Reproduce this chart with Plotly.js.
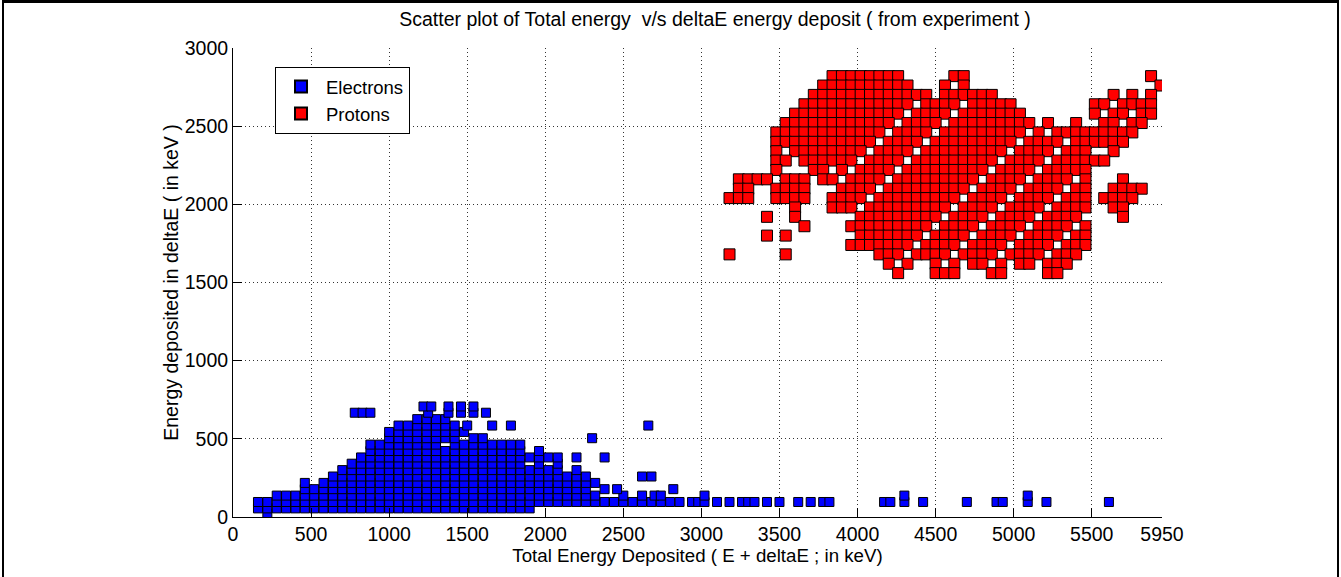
<!DOCTYPE html>
<html>
<head>
<meta charset="utf-8">
<script src="https://cdn.plot.ly/plotly-3.0.1.min.js"></script>
<style>
  html, body { margin: 0; padding: 0; background: #ffffff; }
  #chart { position: absolute; left: 0; top: 0; width: 1341px; height: 577px; }
  #frame { position: absolute; left: 2px; top: 0; width: 1333px; height: 600px;
           border-top: 3px solid #000; border-left: 2px solid #000; border-right: 2px solid #000;
           pointer-events: none; }
</style>
</head>
<body>
<div id="chart"></div>
<div id="frame"></div>
<script>
// ---------------- data ----------------
const chartTitle = 'Scatter plot of Total energy  v/s deltaE energy deposit ( from experiment )';
const xTitle = 'Total Energy Deposited ( E + deltaE ; in keV)';
const yTitle = 'Energy deposited in deltaE ( in keV )';
const xTickVals = [0, 500, 1000, 1500, 2000, 2500, 3000, 3500, 4000, 4500, 5000, 5500, 5950];
const xTickText = ['0', '500', '1000', '1500', '2000', '2500', '3000', '3500', '4000', '4500', '5000', '5500', '5950'];
const yTickVals = [0, 500, 1000, 1500, 2000, 2500, 3000];
const yTickText = ['0', '500', '1000', '1500', '2000', '2500', '3000'];
const seriesNames = ['Electrons', 'Protons'];

// Electrons: deltaE rows (keV) and the total-energy values seen on each row
const electronRowY = [20, 55, 96, 137, 178, 218, 259, 300, 341, 381, 422, 463, 504, 544, 585, 626, 667, 707];
const electronRowX = [
  [220],
  [160,220,280,340,400,460,520,580,640,700,760,820,880,940,1000,1060,1120,1180,1240,1300,1360,1420,1480,1540,1600,1660,1720,1780,1840,1900],
  [160,220,280,340,400,460,520,580,640,700,760,820,880,940,1000,1060,1120,1180,1240,1300,1360,1420,1480,1540,1600,1660,1720,1780,1840,1900,1960,2020,2080,2140,2200,2260,2320,2380,2440,2500,2560,2620,2680,2740,2800,2860,2940,2980,3020,3100,3180,3260,3300,3340,3420,3500,3620,3700,3780,3820,4170,4210,4300,4420,4700,4890,4930,5090,5210,5610],
  [280,340,400,460,520,580,640,700,760,820,880,940,1000,1060,1120,1180,1240,1300,1360,1420,1480,1540,1600,1660,1720,1780,1840,1900,1960,2020,2080,2140,2200,2260,2320,2500,2620,2700,2740,3020,4300,5090],
  [460,520,580,640,700,760,820,880,940,1000,1060,1120,1180,1240,1300,1360,1420,1480,1540,1600,1660,1720,1780,1840,1900,1960,2020,2080,2140,2200,2260,2380,2460,2820],
  [460,580,640,700,760,820,880,940,1000,1060,1120,1180,1240,1300,1360,1420,1480,1540,1600,1660,1720,1780,1840,1900,1960,2020,2080,2140,2200,2260,2320],
  [640,700,760,820,880,940,1000,1060,1120,1180,1240,1300,1360,1420,1480,1540,1600,1660,1720,1780,1840,1900,1960,2020,2080,2140,2200,2260,2620,2680],
  [700,760,820,880,940,1000,1060,1120,1180,1240,1300,1360,1420,1480,1540,1600,1660,1720,1780,1840,1900,1960,2020,2080,2200],
  [760,820,880,940,1000,1060,1120,1180,1240,1300,1360,1420,1480,1540,1600,1660,1720,1780,1840,1960,2080],
  [820,880,940,1000,1060,1120,1180,1240,1300,1360,1420,1480,1540,1600,1660,1720,1780,1840,1900,1960,2020,2080,2200,2380],
  [880,940,1000,1060,1120,1180,1240,1300,1360,1420,1480,1540,1600,1660,1720,1780,1840,1960],
  [880,940,1000,1060,1120,1180,1240,1300,1420,1480,1540,1600,1660,1720,1780,1840],
  [1000,1060,1120,1180,1240,1300,1360,1420,1540,1600,2300],
  [1000,1060,1120,1180,1240,1300,1360,1420,1480],
  [1060,1120,1180,1240,1300,1360,1420,1500,1660,1780,2660],
  [1180,1240,1300,1360],
  [780,830,880,1250,1380,1460,1540,1620],
  [1220,1270,1380,1460,1540]
];

// Protons: deltaE rows (keV) and the total-energy values seen on each row
const protonRowY = [2820, 2760, 2700, 2640, 2580, 2520, 2460, 2400, 2340, 2280, 2220, 2160, 2100, 2040, 1980, 1920, 1860, 1800, 1740, 1680, 1620, 1560];
const protonRowX = [
  [3840,3900,3960,4020,4080,4140,4200,4260,4620,4680,5880],
  [3780,3840,3900,3960,4020,4080,4140,4200,4260,4320,4560,4680,5940],
  [3720,3780,3840,3900,3960,4020,4080,4140,4200,4260,4320,4380,4440,4560,4620,4680,4740,4800,4860,5640,5760,5880],
  [3660,3720,3780,3840,3900,3960,4020,4080,4140,4200,4260,4320,4440,4500,4560,4620,4740,4800,4860,4920,4980,5520,5580,5700,5760,5820,5880],
  [3600,3660,3720,3780,3840,3900,3960,4020,4080,4140,4200,4260,4380,4440,4500,4560,4680,4740,4800,4860,4920,4980,5040,5520,5640,5700,5820,5880],
  [3540,3600,3660,3720,3780,3840,3900,3960,4020,4080,4140,4200,4320,4380,4440,4500,4620,4680,4740,4800,4860,4920,4980,5040,5100,5220,5400,5580,5640,5760,5820],
  [3480,3540,3600,3660,3720,3780,3840,3900,3960,4020,4080,4140,4260,4320,4380,4440,4560,4620,4680,4740,4800,4860,4920,4980,5040,5160,5280,5340,5400,5460,5520,5580,5640,5700,5760],
  [3480,3540,3600,3660,3720,3780,3840,3900,3960,4020,4080,4200,4260,4320,4380,4500,4560,4620,4680,4740,4800,4860,4920,4980,5100,5160,5220,5280,5400,5460,5520,5580,5640,5700],
  [3480,3600,3660,3720,3780,3840,3900,3960,4020,4140,4200,4260,4320,4440,4500,4560,4620,4680,4740,4800,4860,4920,5040,5100,5160,5220,5340,5400,5460,5640],
  [3480,3540,3660,3720,3780,3840,3900,3960,4080,4140,4200,4260,4380,4440,4500,4560,4620,4680,4740,4800,4860,4980,5040,5100,5160,5280,5340,5400,5460,5520,5580],
  [3480,3720,3780,3900,4020,4080,4140,4200,4320,4380,4440,4500,4560,4620,4680,4740,4800,4920,4980,5040,5100,5220,5280,5340,5400,5460],
  [3240,3300,3360,3420,3540,3600,3660,3780,3840,3960,4020,4080,4140,4260,4320,4380,4440,4500,4560,4620,4680,4740,4860,4920,4980,5040,5160,5220,5280,5340,5460,5700],
  [3240,3300,3480,3540,3600,3660,3900,3960,4020,4080,4200,4260,4320,4380,4440,4500,4560,4620,4680,4800,4860,4920,4980,5100,5160,5220,5280,5400,5460,5640,5700,5760,5820],
  [3180,3240,3300,3480,3540,3600,3660,3840,3900,3960,4020,4140,4200,4260,4320,4380,4440,4500,4560,4620,4740,4800,4860,4920,5040,5100,5160,5220,5340,5400,5460,5580,5640,5700,5760],
  [3600,3840,3900,3960,4080,4140,4200,4260,4320,4380,4440,4500,4560,4680,4740,4800,4860,4980,5040,5100,5160,5280,5340,5400,5460,5640,5700],
  [3420,3600,4020,4080,4140,4200,4260,4320,4380,4440,4500,4620,4680,4740,4800,4920,4980,5040,5100,5220,5280,5340,5400,5700],
  [3660,3960,4020,4080,4140,4200,4260,4320,4380,4440,4560,4620,4680,4740,4860,4920,4980,5040,5160,5220,5280,5340,5460],
  [3420,3540,4020,4080,4140,4200,4260,4320,4380,4500,4560,4620,4680,4800,4860,4920,4980,5100,5160,5220,5280,5400,5460],
  [3960,4020,4080,4140,4200,4260,4320,4440,4500,4560,4620,4740,4800,4860,4920,5040,5100,5160,5220,5340,5400,5460],
  [3180,3540,4140,4200,4260,4380,4440,4500,4560,4680,4740,4800,4860,4980,5040,5100,5160,5280,5340,5400],
  [4200,4320,4500,4620,4740,4800,4920,5040,5100,5220,5280,5340],
  [4260,4500,4560,4620,4860,4920,5220,5280]
];

// ---------------- build traces ----------------
function flattenRows(rowY, rowX) {
  const xs = [], ys = [];
  rowX.forEach(function (row, i) {
    row.forEach(function (v) { xs.push(v); ys.push(rowY[i]); });
  });
  return { x: xs, y: ys };
}
const electrons = flattenRows(electronRowY, electronRowX);
const protons = flattenRows(protonRowY, protonRowX);

const FONT = 'Liberation Sans, Arial, Helvetica, sans-serif';
const FS = 19.5;

const traces = [
  {
    type: 'scatter', mode: 'markers', name: seriesNames[0],
    x: electrons.x, y: electrons.y,
    marker: { symbol: 'square', size: 9, color: '#0000ff', line: { color: '#000000', width: 1 } }
  },
  {
    type: 'scatter', mode: 'markers', name: seriesNames[1],
    x: protons.x, y: protons.y,
    marker: { symbol: 'square', size: 11, color: '#ff0000', line: { color: '#000000', width: 1 } }
  }
];

const gridStyle = { showgrid: true, gridcolor: '#333333', gridwidth: 1, griddash: '1px,3px' };

const layout = {
  width: 1341, height: 577,
  paper_bgcolor: '#ffffff', plot_bgcolor: '#ffffff',
  margin: { l: 233, r: 179, t: 48, b: 60, pad: 0 },
  font: { family: FONT, size: FS, color: '#000000' },
  title: {
    text: chartTitle, font: { family: FONT, size: FS, color: '#000000' },
    x: 715 / 1341, xref: 'container', xanchor: 'center',
    y: 1 - 19 / 577, yref: 'container', yanchor: 'middle'
  },
  showlegend: true,
  legend: {
    x: (275 - 233) / 929, y: 1 - (67 - 48) / 469, xanchor: 'left', yanchor: 'top',
    bgcolor: '#ffffff', bordercolor: '#000000', borderwidth: 1,
    font: { family: FONT, size: 18.5, color: '#000000' },
    itemsizing: 'constant', itemwidth: 40, tracegroupgap: 0
  },
  xaxis: Object.assign({
    range: [0, 5950], autorange: false,
    tickmode: 'array', tickvals: xTickVals, ticktext: xTickText,
    ticks: 'inside', ticklen: 9, tickwidth: 1, tickcolor: '#000000',
    showline: true, linecolor: '#000000', linewidth: 1, mirror: false,
    zeroline: false, automargin: false,
    tickfont: { family: FONT, size: FS, color: '#000000' },
    title: { text: xTitle, font: { family: FONT, size: 18.7, color: '#000000' }, standoff: 2 }
  }, gridStyle),
  yaxis: Object.assign({
    range: [0, 3000], autorange: false,
    tickmode: 'array', tickvals: yTickVals, ticktext: yTickText,
    ticks: 'inside', ticklen: 9, tickwidth: 1, tickcolor: '#000000',
    showline: true, linecolor: '#000000', linewidth: 1, mirror: false,
    zeroline: false, automargin: false,
    tickfont: { family: FONT, size: FS, color: '#000000' },
    title: { text: yTitle, font: { family: FONT, size: FS, color: '#000000' }, standoff: 0 }
  }, gridStyle)
};

Plotly.newPlot('chart', traces, layout, { staticPlot: true, displayModeBar: false });
</script>
</body>
</html>
